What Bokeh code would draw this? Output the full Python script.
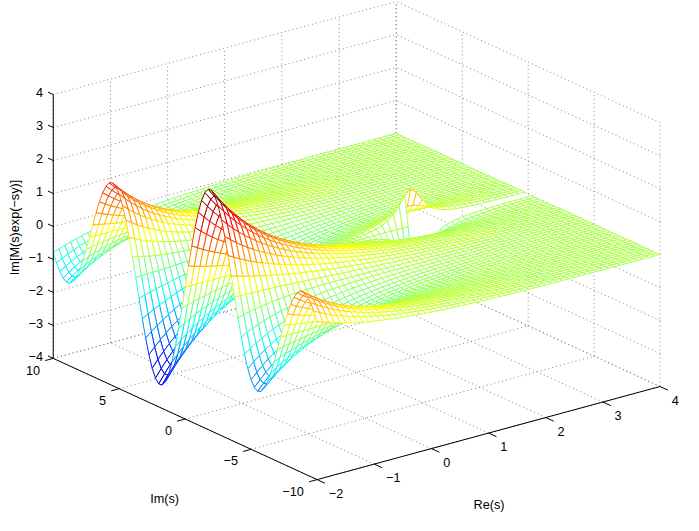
import numpy as np
from bokeh.plotting import figure
from bokeh.models import ColumnDataSource, Range1d
from bokeh.core.properties import value
from bokeh.embed import file_html
from bokeh.resources import INLINE

# ---------------- data ----------------
re_lim = [-2, 4]
im_lim = [-10, 10]
z_lim = [-4, 4]
re_ticks = [-2, -1, 0, 1, 2, 3, 4]
re_tick_labels = ["\u22122", "\u22121", "0", "1", "2", "3", "4"]
im_ticks = [-10, -5, 0, 5, 10]
im_tick_labels = ["\u221210", "\u22125", "0", "5", "10"]
z_ticks = [-4, -3, -2, -1, 0, 1, 2, 3, 4]
z_tick_labels = ["\u22124", "\u22123", "\u22122", "\u22121", "0", "1", "2", "3", "4"]
re_grid = np.linspace(-2, 4, 61)      # Re(s) mesh nodes
im_grid = np.linspace(-10, 10, 81)    # Im(s) mesh nodes
rate = 2.0                             # M(s) = rate / (rate - s)
y_val = 1.0                            # exp(-s*y)
color_lim = [-3.9, 3.3]                # colour scale limits (jet)
x_label = "Re(s)"
y_label = "Im(s)"
z_label = "Im[M(s)exp(\u2212sy)]"

# surface values Im[M(s) exp(-s y)]
RE, IM = np.meshgrid(re_grid, im_grid)
S = RE + 1j * IM
with np.errstate(all="ignore"):
    Z = np.imag(rate / (rate - S) * np.exp(-S * y_val))
Z[(np.abs(IM) < 1e-9) & (RE >= rate - 1e-9)] = np.nan   # undefined on the cut

# ---------------- projection (view of the 3-D box, reference pixel frame) ----------------
O = (324.0, 494.0)
VA = (58.5, -16.0)    # per unit Re
VB = (-13.5, -6.25)   # per unit Im
VC = (0.0, -34.0)     # per unit z


def proj(re, im, z):
    a = np.asarray(re, dtype=float) - re_lim[0]
    b = np.asarray(im, dtype=float) - im_lim[0]
    c = np.asarray(z, dtype=float) - z_lim[0]
    px = O[0] + VA[0] * a + VB[0] * b + VC[0] * c
    py = O[1] + VA[1] * a + VB[1] * b + VC[1] * c
    return px, -py


def nearness(re, im, z):
    a = re - re_lim[0]
    b = im - im_lim[0]
    c = z - z_lim[0]
    return -0.570 * a - 0.2224 * b + 0.1755 * c


def jet(m=64):
    n = int(np.ceil(m / 4))
    u = np.concatenate([np.arange(1, n + 1) / n, np.ones(n - 1), np.arange(n, 0, -1) / n])
    g = int(np.ceil(n / 2)) - (1 if m % 4 == 1 else 0) + np.arange(1, len(u) + 1)
    r = g + n
    b = g - n
    J = np.zeros((m, 3))
    k = r <= m
    J[r[k] - 1, 0] = u[k]
    k = (g >= 1) & (g <= m)
    J[g[k] - 1, 1] = u[k]
    k = b >= 1
    J[b[k] - 1, 2] = u[k]
    return ["#%02x%02x%02x" % tuple(int(round(v * 255)) for v in row) for row in J]


cmap = jet(64)
cmin, cmax = color_lim

cells = []
ni, nr = Z.shape
for i in range(ni - 1):
    for j in range(nr - 1):
        zs = np.array([Z[i, j], Z[i, j + 1], Z[i + 1, j + 1], Z[i + 1, j]])
        if np.any(np.isnan(zs)):
            continue
        rs = np.array([RE[i, j], RE[i, j + 1], RE[i + 1, j + 1], RE[i + 1, j]])
        ims = np.array([IM[i, j], IM[i, j + 1], IM[i + 1, j + 1], IM[i + 1, j]])
        px, py = proj(rs, ims, zs)
        d = nearness(rs.mean(), ims.mean(), zs.mean())
        idx = int(np.floor((zs[0] - cmin) / (cmax - cmin) * 64))
        idx = min(max(idx, 0), 63)
        cells.append((d, list(px), list(py), cmap[idx]))
cells.sort(key=lambda t: t[0])
surf_src = ColumnDataSource(dict(
    xs=[c[1] for c in cells], ys=[c[2] for c in cells], color=[c[3] for c in cells]))

# ---------------- figure ----------------
W, H = 683, 515
p = figure(width=W, height=H, x_range=Range1d(0, 699), y_range=Range1d(-531, 0),
           output_backend="svg", toolbar_location=None, min_border=0,
           x_axis_location=None, y_axis_location=None)
p.xgrid.visible = False
p.ygrid.visible = False
p.outline_line_color = None
p.background_fill_color = "white"
p.border_fill_color = "white"

# grid lines on the back walls and floor
gx, gy = [], []


def seg(p0, p1, xs, ys):
    x, y = proj([p0[0], p1[0]], [p0[1], p1[1]], [p0[2], p1[2]])
    xs.append(list(x))
    ys.append(list(y))


for r in re_ticks:
    seg((r, im_lim[0], z_lim[0]), (r, im_lim[1], z_lim[0]), gx, gy)      # floor
    seg((r, im_lim[1], z_lim[0]), (r, im_lim[1], z_lim[1]), gx, gy)      # back-left wall
for m in im_ticks:
    seg((re_lim[0], m, z_lim[0]), (re_lim[1], m, z_lim[0]), gx, gy)      # floor
    seg((re_lim[1], m, z_lim[0]), (re_lim[1], m, z_lim[1]), gx, gy)      # back-right wall
for z in z_ticks:
    seg((re_lim[0], im_lim[1], z), (re_lim[1], im_lim[1], z), gx, gy)
    seg((re_lim[1], im_lim[0], z), (re_lim[1], im_lim[1], z), gx, gy)
p.multi_line(gx, gy, line_color="#808080", line_width=1, line_dash="1 3")

# surface mesh (white faces, coloured edges, far to near)
p.patches("xs", "ys", source=surf_src, fill_color="white", line_color="color", line_width=1)

# axis lines and ticks
ax, ay = [], []
seg((re_lim[0], im_lim[1], z_lim[0]), (re_lim[0], im_lim[1], z_lim[1]), ax, ay)   # z axis
seg((re_lim[0], im_lim[1], z_lim[0]), (re_lim[0], im_lim[0], z_lim[0]), ax, ay)   # Im axis
seg((re_lim[0], im_lim[0], z_lim[0]), (re_lim[1], im_lim[0], z_lim[0]), ax, ay)   # Re axis
for z in z_ticks:
    seg((re_lim[0], im_lim[1], z), (re_lim[0], im_lim[1] + 0.4, z), ax, ay)
for m in im_ticks:
    seg((re_lim[0], m, z_lim[0]), (re_lim[0] - 0.14, m, z_lim[0]), ax, ay)
for r in re_ticks:
    seg((r, im_lim[0], z_lim[0]), (r, im_lim[0] - 0.6, z_lim[0]), ax, ay)
p.multi_line(ax, ay, line_color="black", line_width=1)

FONT = value("Liberation Sans")
FS = "12.7px"

zx, zy = proj([re_lim[0]] * len(z_ticks), [im_lim[1]] * len(z_ticks), z_ticks)
p.text(x=list(zx - 10.5), y=list(zy + 2), text=z_tick_labels, text_font=FONT,
       text_font_size=FS, text_align="right", text_baseline="middle", text_color="black")

ix, iy = proj([re_lim[0]] * len(im_ticks), im_ticks, [z_lim[0]] * len(im_ticks))
p.text(x=list(ix - 13.5), y=list(iy - 12), text=im_tick_labels, text_font=FONT,
       text_font_size=FS, text_align="right", text_baseline="middle", text_color="black")

rx, ry = proj(re_ticks, [im_lim[0]] * len(re_ticks), [z_lim[0]] * len(re_ticks))
p.text(x=list(rx + 12), y=list(ry - 14), text=re_tick_labels, text_font=FONT,
       text_font_size=FS, text_align="left", text_baseline="middle", text_color="black")

p.text(x=[500], y=[-520], text=[x_label], text_font=FONT, text_font_size=FS,
       text_align="center", text_baseline="middle", text_color="black")
p.text(x=[168], y=[-514], text=[y_label], text_font=FONT, text_font_size=FS,
       text_align="center", text_baseline="middle", text_color="black")
p.text(x=[15], y=[-234], text=[z_label], angle=np.pi / 2, text_font=FONT, text_font_size=FS,
       text_align="center", text_baseline="middle", text_color="black")

open("out.html", "w").write(file_html(p, INLINE))
